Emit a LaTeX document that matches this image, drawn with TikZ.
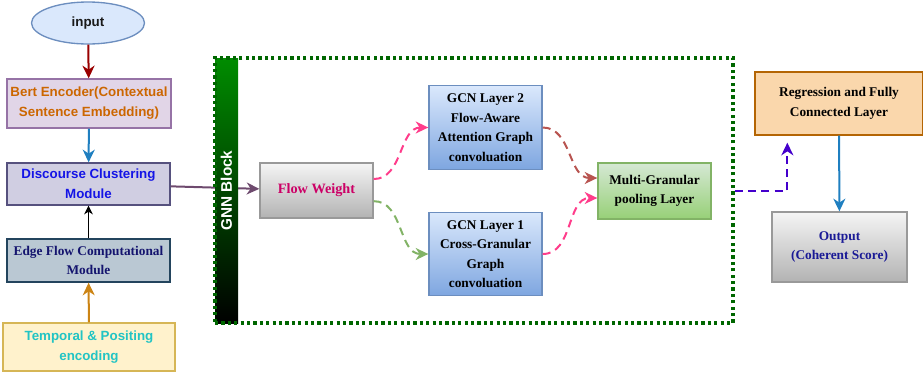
\documentclass[tikz,border=0pt]{standalone}
\usepackage{fontspec}
\setmainfont{Liberation Serif}
\setsansfont{Liberation Sans}
\usetikzlibrary{arrows.meta,positioning,shapes.geometric}
\definecolor{inpfill}{HTML}{DAE8FC}
\definecolor{inpline}{HTML}{6C8EBF}
\definecolor{bertfill}{HTML}{E1D5E7}
\definecolor{bertline}{HTML}{9673A6}
\definecolor{berttext}{HTML}{CC6600}
\definecolor{discfill}{HTML}{D0CEE2}
\definecolor{discline}{HTML}{56517E}
\definecolor{disctext}{HTML}{1414E6}
\definecolor{edgefill}{HTML}{BAC8D3}
\definecolor{edgeline}{HTML}{23445D}
\definecolor{edgetext}{HTML}{14146E}
\definecolor{tempfill}{HTML}{FFF2CC}
\definecolor{templine}{HTML}{D6B656}
\definecolor{temptext}{HTML}{22C4C4}
\definecolor{fwtext}{HTML}{CC0066}
\definecolor{gcnline}{HTML}{6C8EBF}
\definecolor{gcnbot}{HTML}{7EA6E0}
\definecolor{mgptop}{HTML}{D5E8D4}
\definecolor{mgpbot}{HTML}{97D077}
\definecolor{mgpline}{HTML}{82B366}
\definecolor{regfill}{HTML}{FAD7AC}
\definecolor{regline}{HTML}{B46504}
\definecolor{outtext}{HTML}{1A1A96}
\definecolor{redarr}{HTML}{990000}
\definecolor{bluearr}{HTML}{1F7FC0}
\definecolor{goldarr}{HTML}{CC8414}
\definecolor{plumarr}{HTML}{6E4A6E}
\definecolor{pinkarr}{HTML}{FF3D8B}
\definecolor{greenarr}{HTML}{82B366}
\definecolor{brickarr}{HTML}{B85450}
\definecolor{violetarr}{HTML}{4400CC}
\definecolor{gnngreen}{HTML}{006600}

\begin{document}
\begin{tikzpicture}[
  x=0.75pt, y=-0.75pt,
  box/.style={draw, line width=1pt, align=center, inner sep=2pt, font=\sffamily\bfseries\fontsize{10}{15}\selectfont},
  tbox/.style={box, font=\rmfamily\bfseries\fontsize{10}{14.6}\selectfont},
  grey/.style={top color=gray!8, bottom color=gray!60, draw=gray!120!black},
  gcn/.style={tbox, top color=inpfill, bottom color=gcnbot, draw=gcnline, minimum width=84.75pt, minimum height=62.6pt},
  arr/.style={-{Stealth[length=9.5pt,width=9pt,inset=3pt]}, line width=1.5pt},
  darr/.style={arr, dash pattern=on 6pt off 4pt}
]
\useasboundingbox (0,0) rectangle (923,372);

\node[box, ellipse, fill=inpfill, draw=inpline, minimum width=84.75pt, minimum height=31.5pt, text=black!90] (inp) at (88,23) {input};
\node[box, fill=bertfill, draw=bertline, text=berttext, minimum width=123pt, minimum height=36.75pt] (bert) at (89,103.5) {Bert Encoder(Contextual\\Sentence Embedding)};
\node[box, fill=discfill, draw=discline, text=disctext, minimum width=122.25pt, minimum height=31.5pt] (disc) at (88.5,184) {Discourse Clustering\\Module};
\node[tbox, fill=edgefill, draw=edgeline, text=edgetext, minimum width=122.25pt, minimum height=32.25pt] (edge) at (88.5,260.5) {Edge Flow Computational\\Module};
\node[box, fill=tempfill, draw=templine, text=temptext, minimum width=129pt, minimum height=36pt] (temp) at (89,347) {Temporal \& Positing\\encoding};

\draw[arr, redarr] (inp) -- (bert);
\draw[arr, bluearr] (bert) -- (disc);
\draw[-{Stealth[length=6.5pt,width=6.5pt,inset=2pt]}, line width=0.8pt, black] (edge) -- (disc);
\draw[arr, goldarr] (temp) -- (edge);

\node[tbox, grey, text=fwtext, font=\rmfamily\bfseries\fontsize{10.7}{13}\selectfont, minimum width=84.75pt, minimum height=41.25pt] (fw) at (316.5,190.5) {Flow Weight};
\draw[arr, plumarr] (disc) -- (fw);

\node[top color={rgb,255:red,0;green,140;blue,0}, bottom color=black, minimum width=17.25pt, minimum height=198.75pt, inner sep=0pt] (bar) at (226.5,190.5) {};
\node[rotate=90, text=white, font=\sffamily\bfseries\fontsize{11.5}{13}\selectfont] (gnnlbl) at (bar) {GNN Block};
\node[draw=gnngreen, line width=2.4pt, dash pattern=on 2.4pt off 2.4pt, minimum width=388.5pt, minimum height=198.75pt, inner sep=0pt] (gnn) at (474,190.5) {};

\node[gcn] (gcn2) at (485.5,127.5) {GCN Layer 2\\Flow-Aware\\Attention Graph\\convoluation};
\node[gcn] (gcn1) at (485.5,254) {GCN Layer 1\\Cross-Granular\\Graph\\convoluation};
\node[tbox, top color=mgptop, bottom color=mgpbot, draw=mgpline, minimum width=84.75pt, minimum height=42pt] (mgp) at (654.5,191) {Multi-Granular\\pooling Layer};

\node[tbox, fill=regfill, draw=regline, minimum width=126pt, minimum height=47.25pt] (reg) at (839,103.5) {Regression and Fully\\Connected Layer};
\node[tbox, grey, text=outtext, minimum width=101.25pt, minimum height=52.5pt] (out) at (839.5,247) {Output\\(Coherent Score)};

\draw[darr, pinkarr] ([yshift=8.6pt]fw.east) to[out=0, in=180] (gcn2.west);
\draw[darr, greenarr] ([yshift=-8pt]fw.east) to[out=0, in=180] (gcn1.west);
\draw[darr, brickarr] (gcn2.east) to[out=0, in=180] ([yshift=9.75pt]mgp.west);
\draw[darr, pinkarr] (gcn1.east) to[out=0, in=180] ([yshift=-5.25pt]mgp.west);
\draw[darr, violetarr, shorten >=5.25pt] (gnn.east |- mgp.east) -| ([xshift=24.75pt]reg.south west);
\draw[arr, bluearr] (reg) -- (out);
\end{tikzpicture}
\end{document}
